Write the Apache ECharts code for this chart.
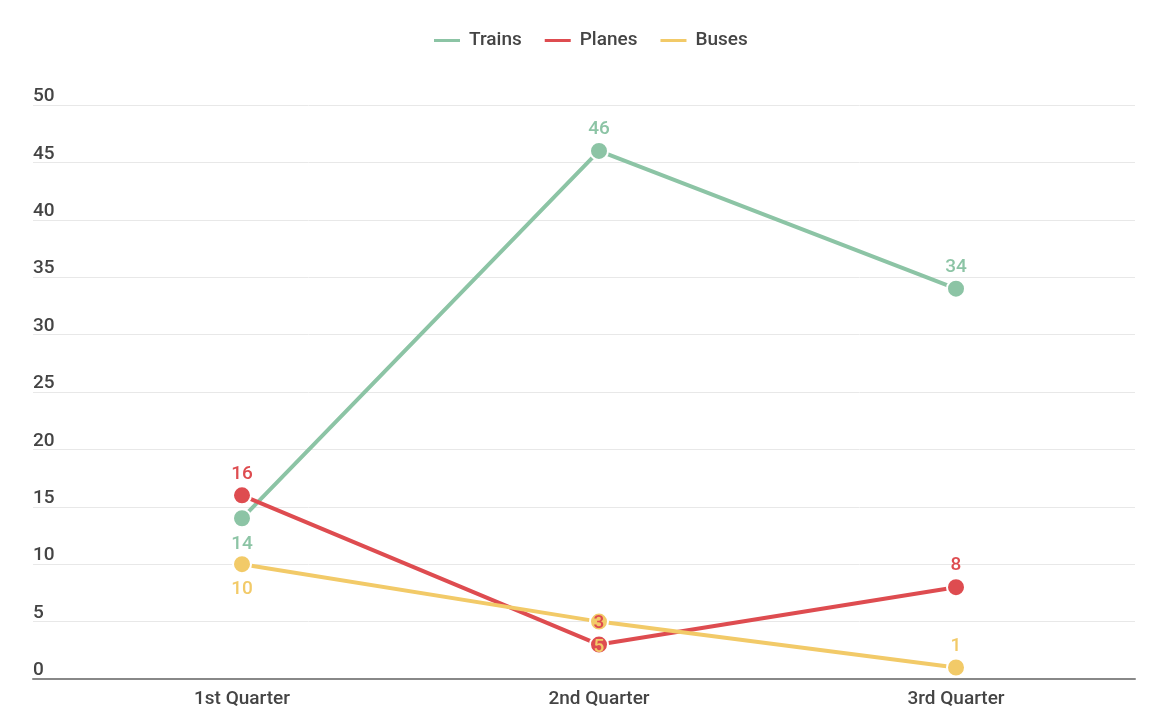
<!DOCTYPE html>
<html><head><meta charset="utf-8">
<script src="https://cdn.jsdelivr.net/npm/echarts@6/dist/echarts.min.js"></script>
<style>html,body{margin:0;padding:0;background:#fff}#c{width:1159px;height:722px}</style>
</head><body><div id="c"></div>
<script>
const categories = ['1st Quarter', '2nd Quarter', '3rd Quarter'];
const trains = [14, 46, 34];
const planes = [16, 3, 8];
const buses = [10, 5, 1];
const trainsLabelPos = ['bottom', 'top', 'top'];
const planesLabelPos = ['top', 'top', 'top'];
const busesLabelPos = ['bottom', 'bottom', 'top'];
const yTicks = [0, 5, 10, 15, 20, 25, 30, 35, 40, 45, 50];

const colors = { Trains: '#8cc4a5', Planes: '#de4c50', Buses: '#f2ca68' };
const font = 'Roboto, "Noto Sans", sans-serif';

function mk(name, vals, pos) {
  return {
    name, type: 'line', xAxisIndex: 1, yAxisIndex: 1,
    data: vals.map((v, i) => ({ value: v, label: { position: pos[i], distance: pos[i] === 'top' ? 2 : 6 } })),
    symbol: 'circle', symbolSize: 18,
    lineStyle: { width: 4, color: colors[name] },
    itemStyle: { color: colors[name], borderColor: '#fff', borderWidth: 2 },
    label: { show: true, color: colors[name], fontSize: 19, fontWeight: 500, fontFamily: font },
    emphasis: { disabled: true },
    z: 3
  };
}

const chart = echarts.init(document.getElementById('c'));
chart.setOption({
  animation: false,
  color: [colors.Trains, colors.Planes, colors.Buses],
  legend: {
    top: 26, left: 427, itemWidth: 28, itemHeight: 5, itemGap: 21,
    icon: 'rect',
    textStyle: { fontSize: 19, fontWeight: 500, color: '#444', fontFamily: font, padding: [0, 0, 0, 3] },
    data: ['Trains', 'Planes', 'Buses']
  },
  grid: [
    { left: 33, right: 24, top: 105, bottom: 43 },
    { left: 63.5, right: 24.5, top: 105, bottom: 43 }
  ],
  xAxis: [
    { gridIndex: 0, type: 'category', data: categories, axisLine: { lineStyle: { color: '#888', width: 2 } },
      axisTick: { show: false }, axisLabel: { show: false } },
    { gridIndex: 1, type: 'category', data: categories, axisLine: { show: false }, axisTick: { show: false },
      axisLabel: { fontSize: 19, fontWeight: 500, color: '#444', fontFamily: font, margin: 11 } }
  ],
  yAxis: [
    { gridIndex: 0, type: 'value', min: yTicks[0], max: yTicks[yTicks.length - 1], interval: 5,
      axisLine: { show: false }, axisTick: { show: false },
      splitLine: { lineStyle: { color: '#e8e8e8', width: 1 } },
      axisLabel: { inside: true, verticalAlign: 'bottom', align: 'left', margin: 0, fontSize: 19, fontWeight: 500, lineHeight: 17, color: '#444', fontFamily: font } },
    { gridIndex: 1, type: 'value', min: yTicks[0], max: yTicks[yTicks.length - 1], interval: 5, show: false }
  ],
  series: [
    mk('Trains', trains, trainsLabelPos),
    mk('Planes', planes, planesLabelPos),
    mk('Buses', buses, busesLabelPos)
  ]
});
</script></body></html>
